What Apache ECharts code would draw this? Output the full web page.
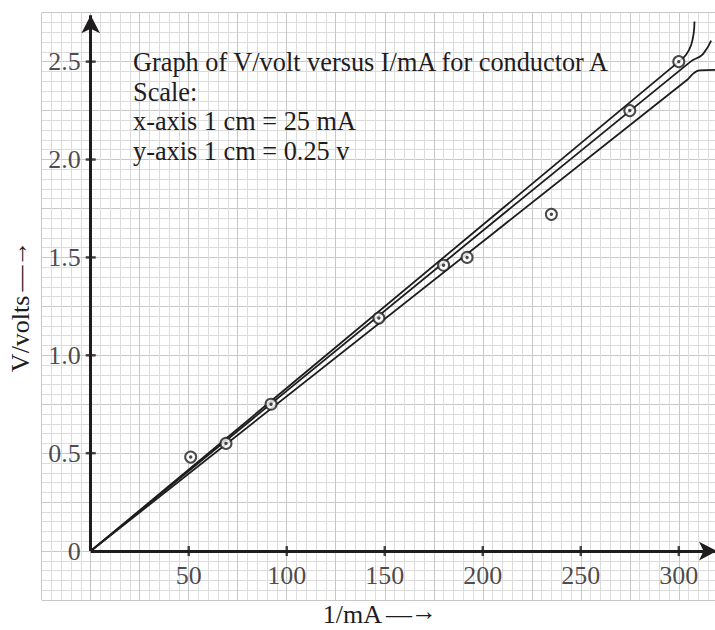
<!DOCTYPE html>
<html>
<head>
<meta charset="utf-8">
<style>
  html, body { margin: 0; padding: 0; background: #ffffff; }
  #chart { width: 715px; height: 630px; }
</style>
<script src="https://cdn.jsdelivr.net/npm/echarts@6/dist/echarts.min.js"></script>
</head>
<body>
<div id="chart"></div>
<script>
// ---- data ----
const currentMA = [51, 69, 92, 147, 180, 192, 235, 275, 300];
const voltageV  = [0.48, 0.55, 0.75, 1.19, 1.46, 1.50, 1.72, 2.25, 2.50];

const upperLine = [[0, 0], [300, 2.50], [303.7, 2.535], [306.3, 2.585], [307.6, 2.645], [308, 2.705]];
const bestLine  = [[0, 0], [306, 2.50], [311.4, 2.53], [313.5, 2.555], [315, 2.578], [316.5, 2.607]];
const lowerLine = [[0, 0], [304, 2.405], [307.5, 2.44], [310.5, 2.455], [319, 2.458]];

const xTickValues = [50, 100, 150, 200, 250, 300];
const yTickValues = [0.5, 1.0, 1.5, 2.0, 2.5];
const yLabelValues = [0, 0.5, 1.0, 1.5, 2.0, 2.5];
const yLabelTexts  = ['0', '0.5', '1.0', '1.5', '2.0', '2.5'];

const xAxisTip = 319.5;
const yAxisTip = 2.737;

const titleLines = [
  'Graph of V/volt versus I/mA for conductor A',
  'Scale:',
  'x-axis 1 cm = 25 mA',
  'y-axis 1 cm = 0.25 v'
];
const xNameText = '1/mA';
const yNameText = 'V/volts';
const arrowShaft = '\u2014';
const arrowHead = '\u2192';

// ---- styling ----
const INK = '#1e1c1d';
const FONT = '"Liberation Serif", "Times New Roman", serif';
const MAJOR = '#c8c8c8';
const MINOR = '#dcdcdc';
const gridColors = [MAJOR, MINOR, MINOR, MINOR, MINOR];
const nameRich = {
  n: { fontFamily: FONT, fontSize: 26, color: INK, lineHeight: 22 },
  d: { fontFamily: FONT, fontSize: 26, color: INK, lineHeight: 22, padding: [0, 0, 0, 4] },
  h: { fontFamily: FONT, fontSize: 26, color: INK, lineHeight: 22, padding: [0, 0, 5, -1] }
};
const nameOf = t => '{n|' + t + '}{d|' + arrowShaft + '}{h|' + arrowHead + '}';

const chart = echarts.init(document.getElementById('chart'), null, { renderer: 'svg' });

const option = {
  animation: false,
  backgroundColor: '#ffffff',
  title: {
    text: titleLines.join('\n'),
    left: 128,
    top: 43,
    textStyle: { fontFamily: FONT, fontSize: 26.3, fontWeight: 'normal', color: INK, lineHeight: 29.5 }
  },
  grid: { left: 41.7, top: 12.7, right: -3, bottom: 30, containLabel: false, outerBoundsMode: 'none' },
  xAxis: {
    type: 'value', min: -25, max: 320, interval: 5,
    name: nameOf(xNameText), nameLocation: 'middle', nameGap: 3,
    nameTextStyle: { color: INK, verticalAlign: 'top', rich: nameRich },
    axisLine: { show: false, onZero: false }, axisTick: { show: false }, axisLabel: { show: false },
    splitLine: { show: true, lineStyle: { color: gridColors, width: 1 } }
  },
  yAxis: {
    type: 'value', min: -0.25, max: 2.75, interval: 0.05,
    name: nameOf(yNameText), nameLocation: 'middle', nameGap: 10, nameRotate: 90,
    nameTextStyle: { color: INK, rich: nameRich },
    axisLine: { show: false, onZero: false }, axisTick: { show: false }, axisLabel: { show: false },
    splitLine: { show: true, lineStyle: { color: gridColors, width: 1 } }
  },
  series: [
    {
      type: 'line', data: [], silent: true, z: 3,
      markLine: {
        silent: true, symbol: ['none', 'arrow'], symbolSize: [14, 18],
        label: { show: false },
        lineStyle: { type: 'solid', width: 3, color: INK },
        emphasis: { disabled: true },
        data: [
          [{ coord: [0, 0] }, { coord: [0, yAxisTip] }],
          [{ coord: [0, 0] }, { coord: [xAxisTip, 0] }]
        ]
      }
    },
    {
      type: 'scatter', silent: true, z: 3,
      symbol: 'rect', symbolSize: [2.5, 10], itemStyle: { color: INK },
      data: xTickValues.map(v => [v, 0]),
      label: { show: true, position: 'bottom', distance: 6, formatter: p => String(p.value[0]),
               fontFamily: FONT, fontSize: 26, color: INK }
    },
    {
      type: 'scatter', silent: true, z: 3,
      symbol: 'rect', symbolSize: [10, 2.5], itemStyle: { color: INK },
      data: yTickValues.map(v => [0, v])
    },
    {
      type: 'scatter', silent: true, z: 3,
      symbolSize: 0,
      data: yLabelValues.map((v, i) => ({ value: [0, v], name: yLabelTexts[i] })),
      label: { show: true, position: 'left', distance: 10, formatter: p => p.name,
               fontFamily: FONT, fontSize: 26, color: INK }
    },
    { type: 'line', data: upperLine, showSymbol: false, smooth: 0.4, silent: true, z: 4,
      lineStyle: { color: INK, width: 1.8 } },
    { type: 'line', data: bestLine, showSymbol: false, smooth: 0.4, silent: true, z: 4,
      lineStyle: { color: INK, width: 1.8 } },
    { type: 'line', data: lowerLine, showSymbol: false, smooth: 0.4, silent: true, z: 4,
      lineStyle: { color: INK, width: 1.8 } },
    {
      type: 'scatter', silent: true, z: 5,
      symbol: 'circle', symbolSize: 11,
      itemStyle: { color: '#ffffff', borderColor: INK, borderWidth: 2 },
      data: currentMA.map((x, i) => [x, voltageV[i]])
    },
    {
      type: 'scatter', silent: true, z: 6,
      symbol: 'circle', symbolSize: 3.4,
      itemStyle: { color: INK },
      data: currentMA.map((x, i) => [x, voltageV[i]])
    }
  ]
};
chart.setOption(option);
</script>
</body>
</html>
